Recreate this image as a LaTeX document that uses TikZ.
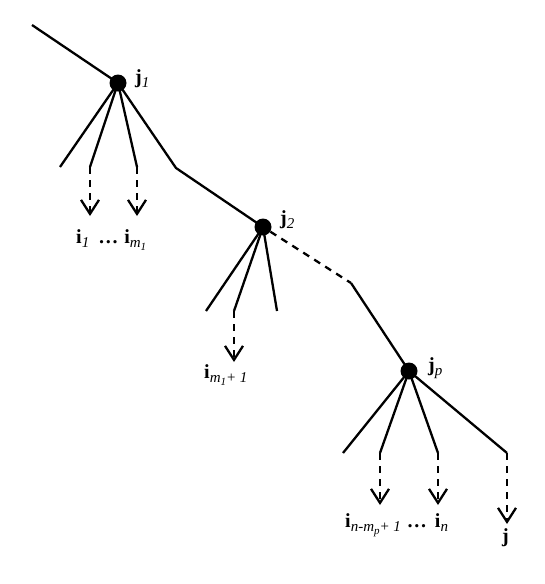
\documentclass[tikz,border=0pt]{standalone}
\usepackage{fontspec}
\setmainfont{Liberation Serif}
\usetikzlibrary{arrows.meta}
\tikzset{
  edge/.style={line width=2.3pt},
  dashedge/.style={line width=2.3pt, dash pattern=on 7pt off 6pt},
  arrowedge/.style={line width=2.3pt, dash pattern=on 7pt off 6pt, -{Straight Barb[length=14pt,width=18pt,line width=2.3pt]}},
  vertex/.style={circle, fill=black, inner sep=0pt, minimum size=17pt},
  lbl/.style={anchor=base west, inner sep=0pt, font=\fontsize{20}{24}\selectfont},
}
\newcommand{\sbs}[1]{\raisebox{-4pt}{\fontsize{15}{17}\selectfont\textit{#1}}}
\newcommand{\ssbs}[1]{\raisebox{-3pt}{\fontsize{11}{12}\selectfont\textit{#1}}}
\begin{document}
\begin{tikzpicture}[x=1pt,y=-1pt]
\useasboundingbox (0,0) rectangle (545,584);
% vertices
\node[vertex] (j1) at (118,83) {};
\node[vertex] (j2) at (263,227) {};
\node[vertex] (jp) at (409,371) {};
% coordinates
\coordinate (top) at (32,25);
\coordinate (a1) at (60,167);
\coordinate (a2) at (90,167);
\coordinate (a3) at (137,167);
\coordinate (a4) at (176,168);
\coordinate (a2e) at (90,216);
\coordinate (a3e) at (137,216);
\coordinate (b1) at (206,311);
\coordinate (b2) at (234,311);
\coordinate (b3) at (277,311);
\coordinate (b2e) at (234,362);
\coordinate (mid) at (351,283);
\coordinate (c1) at (343,453);
\coordinate (c2) at (380,453);
\coordinate (c3) at (438,453);
\coordinate (c4) at (507,453);
\coordinate (c2e) at (380,505);
\coordinate (c3e) at (438,505);
\coordinate (c4e) at (507,524);
% solid edges
\draw[edge] (top) -- (j1.center);
\draw[edge] (j1.center) -- (a1);
\draw[edge] (j1.center) -- (a2);
\draw[edge] (j1.center) -- (a3);
\draw[edge] (j1.center) -- (a4) -- (j2.center);
\draw[edge] (j2.center) -- (b1);
\draw[edge] (j2.center) -- (b2);
\draw[edge] (j2.center) -- (b3);
\draw[dashedge] (j2) -- (mid);
\draw[edge] (mid) -- (jp.center);
\draw[edge] (jp.center) -- (c1);
\draw[edge] (jp.center) -- (c2);
\draw[edge] (jp.center) -- (c3);
\draw[edge] (jp.center) -- (c4);
% dashed arrows
\draw[arrowedge] (a2) -- (a2e);
\draw[arrowedge] (a3) -- (a3e);
\draw[arrowedge] (b2) -- (b2e);
\draw[arrowedge] (c2) -- (c2e);
\draw[arrowedge] (c3) -- (c3e);
\draw[arrowedge] (c4) -- (c4e);
% labels
\node[lbl] (lj1) at (135,83) {\textbf{j}\sbs{1}};
\node[lbl] (lj2) at (280,224) {\textbf{j}\sbs{2}};
\node[lbl] (ljp) at (428,371) {\textbf{j}\sbs{p}};
\node[lbl] (li1) at (76,243) {\textbf{i}\sbs{1}\hspace{9pt}\textbf{\ldots}\hspace{6pt}\textbf{i}\sbs{m\ssbs{1}}};
\node[lbl] (lim) at (204,378) {\textbf{i}\sbs{m\ssbs{1}+ 1}};
\node[lbl] (lin) at (345,527) {\textbf{i}\sbs{n-m\ssbs{p}+ 1}\hspace{6pt}\textbf{\ldots}\hspace{8pt}\textbf{i}\sbs{n}};
\node[lbl] (lj) at (502,542) {\textbf{j}};
\end{tikzpicture}
\end{document}
